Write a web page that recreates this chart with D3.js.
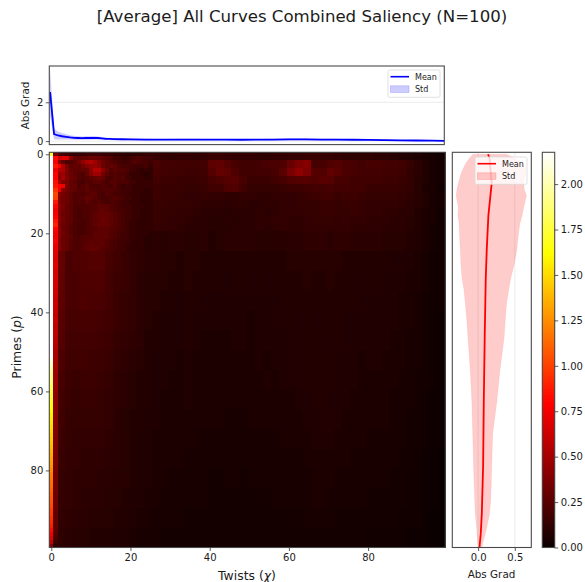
<!DOCTYPE html>
<html><head><meta charset="utf-8">
<script src="https://cdn.jsdelivr.net/npm/d3@7"></script>
<style>html,body{margin:0;padding:0;background:#fff}svg{display:block}text{font-family:"DejaVu Sans",sans-serif;fill:#1c1c1c}</style>
</head><body><svg id="c" width="585" height="582"></svg>
<script>
const titleText = "[Average] All Curves Combined Saliency (N=100)";
const gridSize = 100;
const colorMax = 2.175;
const axisTicks = [0, 20, 40, 60, 80];
const colorbarTicks = [0, 0.25, 0.5, 0.75, 1, 1.25, 1.5, 1.75, 2];

// column 0 and column 1 of the heat map, one value per row
const columnZero = [1.75,2.3,2.3,2.3,2.3,2.3,2.3,2.3,2.3,2.3,2.3,2.3,2.3,2.3,2.3,2.3,2.3,2.3,2.3,2.3,2.3,2.3,2.3,2.3,2.3,2.3,2.3,2.3,2.3,2.3,2.3,2.3,2.3,2.3,2.3,2.3,2.3,2.3,2.3,2.3,2.3,2.3,2.3,2.3,2.3,2.3,2.3,2.3,2.3,2.3,2.3,2.2,2.12,2.06,2.0,1.96,1.93,1.9,1.87,1.84,1.8,1.76,1.72,1.68,1.64,1.61,1.58,1.56,1.54,1.52,1.5,1.47,1.45,1.42,1.4,1.37,1.35,1.32,1.3,1.27,1.24,1.2,1.18,1.16,1.14,1.12,1.09,1.07,1.05,1.03,1.0,.98,.95,.92,.88,.82,.76,.7,.6,.42];
const columnOne = [.34,.82,.78,.86,.74,.8,.8,.84,.86,.95,1.02,1.0,.86,.8,.75,.78,.8,.86,.9,.8,.76,.74,.78,.74,.72,.7,.7,.68,.7,.68,.66,.68,.66,.66,.64,.66,.64,.62,.64,.62,.62,.6,.62,.6,.58,.6,.58,.56,.56,.54,.52,.52,.5,.5,.48,.48,.46,.47,.45,.44,.44,.43,.42,.42,.41,.41,.4,.4,.39,.39,.38,.38,.37,.37,.36,.36,.35,.35,.35,.34,.34,.33,.33,.33,.32,.32,.31,.31,.3,.3,.29,.28,.28,.27,.26,.25,.23,.2,.15,.1];

// rows 0-24, columns 2-25, one character per cell
const fineRows = [
"887666677776665554455566",
"qttgcbccddcba97766789877",
"hc9abeilnkgdba98778a9887",
"vmfbcbegijhdbcb988877786",
"nmgcbbcchnnhd9baa9776565",
"ikfdba9cgkkeb9a998666545",
"hlgdca9abcdc98a9a7766655",
"lgfcb98a9bba8aa999776666",
"wvfcc9ab999a98a867766666",
"vhecbaabaa99aa9877766655",
"hfdb9a9abb98a98877666555",
"gedb9aacba9889a987766555",
"gedb9a9ba9a9899877666555",
"hfcb9999aabbba9877766655",
"gecb9899aabcba9887766555",
"gdcb9899abcccba987766555",
"hecb9899abcccba987766555",
"hecb9989abcdcba987665555",
"gdca9889abcccba987665555",
"hdba9889aabbbaa987665555",
"heca9889abbbba9877665554",
"hdcb99aaabbbba9877665544",
"gdca99aabbbba98777655544",
"gdca99abbbbba98776655544",
"gdca99abccba998776555544"];

// blocks two columns wide starting at column 2; blockRowStarts gives each block's first row
const blockRowStarts = [0,2,4,6,8,10,12,14,16,18,20,25,30,35,40,45,50,55,60,65,70,75,80,85,90,95,100];
const blockRows = [
"aaaaaaaaaaaa"+"cbabbab"+"ddcbbbaabb"+"ccddccbaaa"+"a998765432",
"aaaaaaaaaaaa"+"iggfffg"+"nolhffgiij"+"qwzhhklihg"+"hhggfc9643",
"aaaaaaaaaaaa"+"hgffeef"+"lpnjffgghm"+"vBxlkomihg"+"ggffeb9643",
"aaaaaaaaaaaa"+"geeddde"+"hjlmhdddfh"+"kllkmlhhff"+"ffeedb8643",
"aaaaaaaaaaaa"+"edddccd"+"ffjkfccccd"+"eefgghggff"+"ddddcb8542",
"aaaaaaaaaaaa"+"eddcbbc"+"bbaabbaabb"+"bcdeffdeed"+"ccccba8643",
"aaaaaaaaaaaa"+"ddcccba"+"aa9aa99aab"+"bcccddcddc"+"bbbba98643",
"aaaaaaaaaaaa"+"dccbba9"+"998999a9ab"+"bbccddccdc"+"bbaa997542",
"aaaaaaaaaaaa"+"dcbba99"+"889899aabb"+"aabcccbcbb"+"aaa9987542",
"aaaaaaaaaaaa"+"cbba999"+"888999a9ab"+"aabbbbbbaa"+"aa99987532",
"pkjjkkhecba9"+"9899889"+"7899998888"+"99aaa9aa99"+"9988876532",
"pijkllhfdba9"+"9887887"+"7777777777"+"8888888777"+"7776665422",
"oiijjjgedb98"+"8877877"+"7767767677"+"7787787776"+"7766655422",
"niijiigdcb98"+"8776776"+"6666666667"+"7777777776"+"6666554322",
"mhhhhgfdcb98"+"7666766"+"6666656666"+"7676777666"+"6666554321",
"lggggfecba97"+"7666765"+"5556656666"+"6677767666"+"6665544321",
"jfffeedba987"+"6665655"+"5555556566"+"6677776665"+"6655544321",
"hedeedca9877"+"6655655"+"5555555656"+"6677776665"+"5555443321",
"gdcddcba9877"+"6555655"+"5555555555"+"5667766655"+"5554443211",
"fcccccb98776"+"6555555"+"5544455555"+"5566676555"+"5554433211",
"ecbbbba98766"+"5555554"+"4444444445"+"5556665555"+"4444433211",
"dbbaaa998766"+"5555444"+"4444444444"+"4455555544"+"4444332110",
"cbaaa9988766"+"5544444"+"3344344444"+"4445554444"+"4443322110",
"cba999887665"+"5444444"+"3333333344"+"4445544444"+"3333322110",
"ba9988877655"+"4444333"+"3333333333"+"3344443333"+"3333222100",
"a98877766544"+"4333333"+"3333333333"+"3333333333"+"2222211100"];

const topChi  = [0,1,2,3,4,5,6,7,8,9,10,11,12,13,14,15,16,18,20,24,28,32,36,40,44,48,52,56,60,64,68,72,76,80,84,88,92,96,99];
const topMean = [2.52,.36,.29,.25,.22,.19,.17,.16,.15,.16,.16,.17,.16,.14,.12,.11,.1,.095,.09,.08,.075,.08,.08,.075,.075,.07,.075,.08,.085,.09,.08,.08,.07,.065,.05,.04,.03,.02,.01];
const topUpper= [3.75,.62,.5,.42,.36,.3,.27,.25,.24,.25,.25,.26,.24,.21,.18,.16,.15,.14,.13,.12,.11,.12,.12,.11,.11,.1,.11,.12,.13,.135,.12,.12,.1,.095,.08,.06,.05,.03,.015];
const topLower= [1.3,.1,.08,.08,.08,.08,.07,.07,.06,.07,.07,.08,.08,.07,.06,.06,.05,.05,.05,.04,.04,.04,.04,.04,.04,.04,.04,.04,.04,.045,.04,.04,.04,.035,.02,.02,.01,.01,.005];

const sideRows  = [0,1,2,3.5,5,7,9,10.4,12,13.5,15.5,17.5,19.5,22,24,28,31.4,34,37.7,42,46.3,50,54.7,59,63,67,70.6,75,79,83,87.6,91,94.5,98,99.5];
const sideLeft  = [-.07,-.12,-.16,-.2,-.235,-.265,-.29,-.3,-.285,-.27,-.275,-.26,-.257,-.25,-.243,-.235,-.22,-.195,-.175,-.155,-.139,-.125,-.108,-.095,-.085,-.08,-.074,-.068,-.063,-.055,-.047,-.04,-.02,-.01,.007];
const sideRight = [.39,.5,.58,.66,.65,.62,.63,.66,.64,.62,.6,.57,.555,.54,.53,.49,.445,.42,.388,.37,.355,.33,.297,.275,.253,.225,.2,.192,.185,.18,.172,.155,.117,.07,.05];
const meanRows  = [0,1,7.3,15.5,24,31.4,46,63,79,91,96,99.5];
const meanValues= [.135,.155,.185,.14,.118,.104,.09,.077,.068,.05,.036,.018];

const fineStep = 0.024, blockStep = 0.0115;
const alphabet = "0123456789abcdefghijklmnopqrstuvwxyzABCDEFGHIJKLMNOPQRSTUVWXYZ";
const heat = [];
blockRows.forEach((s, b) => {
  for (let r = blockRowStarts[b]; r < blockRowStarts[b + 1]; r++)
    for (let i = 0; i < s.length; i++)
      for (const c of [2 + 2 * i, 3 + 2 * i])
        if (c < gridSize) heat.push({ r, c, v: alphabet.indexOf(s[i]) * blockStep });
});
fineRows.forEach((s, r) => { [...s].forEach((ch, i) => heat.push({ r, c: 2 + i, v: alphabet.indexOf(ch) * fineStep })); });
columnZero.forEach((v, r) => heat.push({ r, c: 0, v }));
columnOne.forEach((v, r) => heat.push({ r, c: 1, v }));

// matplotlib "hot"
const hot = t => {
  t = Math.max(0, Math.min(1, t));
  const R = Math.min(1, 0.0416 + t / 0.365 * 0.9584);
  const G = t < 0.365 ? 0 : Math.min(1, (t - 0.365) / 0.381);
  const B = t < 0.746 ? 0 : Math.min(1, (t - 0.746) / 0.254);
  return d3.rgb(R * 255, G * 255, B * 255).formatRgb();
};
const colorScale = d3.scaleSequential(hot).domain([0, colorMax]);

const svg = d3.select("#c");
const spine = "#4a4a4a", gridCol = "#e6e6e6";
const H = { l: 49.3, r: 445.3, t: 152.3, b: 547.5 };
const T = { l: 49.3, r: 444.3, t: 66, b: 144.6 };
const S = { l: 452.3, r: 531.3, t: 152.3, b: 547.5 };
const C = { l: 542.3, r: 554.7, t: 152.3, b: 547.5 };

const x = d3.scaleLinear().domain([-0.5, 99.5]).range([H.l, H.r]);
const y = d3.scaleLinear().domain([-0.5, 99.5]).range([H.t, H.b]);
const xTop = d3.scaleLinear().domain([-0.2, 99]).range([T.l, T.r]);
const yTop = d3.scaleLinear().domain([3.87, -0.18]).range([T.t, T.b]);
const xSide = d3.scaleLinear().domain([-0.352, 0.725]).range([S.l, S.r]);
const yCb = d3.scaleLinear().domain([0, colorMax]).range([C.b, C.t]);

function styleAxis(g) {
  g.select(".domain").remove();
  g.selectAll("line").attr("stroke", "#333").attr("stroke-width", 0.8);
  g.selectAll("text").attr("font-size", 10).style("font-family", '"DejaVu Sans"').attr("fill", "#1c1c1c");
}
function box(b) {
  svg.append("rect").attr("x", b.l).attr("y", b.t).attr("width", b.r - b.l).attr("height", b.b - b.t)
    .attr("fill", "none").attr("stroke", spine).attr("stroke-width", 1.1);
}
function legend(lx, ly, w, h, col, fillCol) {
  const g = svg.append("g");
  g.append("rect").attr("x", lx).attr("y", ly).attr("width", w).attr("height", h).attr("rx", 1.5)
    .attr("fill", "#fff").attr("fill-opacity", 0.8).attr("stroke", "#d9d9d9").attr("stroke-width", 0.8);
  g.append("line").attr("x1", lx + 2.5).attr("x2", lx + 21).attr("y1", ly + 6.7).attr("y2", ly + 6.7).attr("stroke", col).attr("stroke-width", 1.6);
  g.append("rect").attr("x", lx + 2.5).attr("y", ly + 15.8).attr("width", 18.5).attr("height", 6.6).attr("fill", fillCol).attr("stroke", col).attr("stroke-opacity", 0.2).attr("stroke-width",0.8);
  g.append("text").attr("x", lx + 27).attr("y", ly + 9.7).attr("font-size", 8).text("Mean");
  g.append("text").attr("x", lx + 27).attr("y", ly + 22.2).attr("font-size", 8).text("Std");
}

svg.append("text").attr("x", 302).attr("y", 22).attr("text-anchor", "middle").attr("font-size", 16.6).text(titleText);

// top panel
svg.append("g").selectAll("line").data([0, 2]).join("line")
  .attr("x1", T.l).attr("x2", T.r).attr("y1", d => yTop(d)).attr("y2", d => yTop(d)).attr("stroke", gridCol).attr("stroke-width", 0.8);
svg.append("path").datum(topChi.map((c, i) => [c, topLower[i], topUpper[i]]))
  .attr("fill", "#0000ff").attr("fill-opacity", 0.2)
  .attr("d", d3.area().x(d => xTop(d[0])).y0(d => yTop(d[1])).y1(d => yTop(d[2])));
svg.append("path").datum(topChi.map((c, i) => [c, topMean[i]]))
  .attr("fill", "none").attr("stroke", "#0000ff").attr("stroke-width", 1.8)
  .attr("d", d3.line().x(d => xTop(d[0])).y(d => yTop(d[1])));
box(T);
svg.append("g").attr("transform", `translate(${T.l},0)`).call(d3.axisLeft(yTop).tickValues([0, 2]).tickFormat(d3.format("d")).tickSize(3.5).tickPadding(2.5)).call(styleAxis);
svg.append("text").attr("transform", "translate(29,105.5) rotate(-90)").attr("text-anchor", "middle").attr("font-size", 10.4).text("Abs Grad");
legend(388, 70, 52, 27.3, "#0000ff", "rgba(0,0,255,0.2)");

// heat map
svg.append("g").attr("shape-rendering", "crispEdges").selectAll("rect").data(heat).join("rect")
  .attr("x", d => x(d.c - 0.5)).attr("y", d => y(d.r - 0.5))
  .attr("width", x(1) - x(0) + 0.3).attr("height", y(1) - y(0) + 0.3)
  .attr("fill", d => colorScale(d.v));
box(H);
svg.append("g").attr("transform", `translate(0,${H.b})`).call(d3.axisBottom(x).tickValues(axisTicks).tickSize(3.5).tickPadding(2.5)).call(styleAxis);
svg.append("g").attr("transform", `translate(${H.l},0)`).call(d3.axisLeft(y).tickValues(axisTicks).tickSize(3.5).tickPadding(2.5)).call(styleAxis);
const xl = svg.append("text").attr("x", 247).attr("y", 580).attr("text-anchor", "middle").attr("font-size", 12.4);
xl.append("tspan").text("Twists (");
xl.append("tspan").attr("font-style", "italic").text("χ");
xl.append("tspan").text(")");
const yl = svg.append("text").attr("transform", "translate(21,347) rotate(-90)").attr("text-anchor", "middle").attr("font-size", 12.4);
yl.append("tspan").text("Primes (");
yl.append("tspan").attr("font-style", "italic").text("p");
yl.append("tspan").text(")");

// side panel
svg.append("g").selectAll("line").data([0, 0.5]).join("line")
  .attr("x1", d => xSide(d)).attr("x2", d => xSide(d)).attr("y1", S.t).attr("y2", S.b).attr("stroke", gridCol).attr("stroke-width", 0.8);
svg.append("path").datum(sideRows.map((r, i) => [r, sideLeft[i], sideRight[i]]))
  .attr("fill", "#ff0000").attr("fill-opacity", 0.2).attr("stroke", "#ff0000").attr("stroke-opacity", 0.06)
  .attr("d", d3.area().y(d => y(d[0])).x0(d => xSide(d[1])).x1(d => xSide(d[2])));
svg.append("path").datum(meanRows.map((r, i) => [r, meanValues[i]]))
  .attr("fill", "none").attr("stroke", "#ff0000").attr("stroke-width", 1.8)
  .attr("d", d3.line().y(d => y(d[0])).x(d => xSide(d[1])));
box(S);
svg.append("g").attr("transform", `translate(0,${S.b})`).call(d3.axisBottom(xSide).tickValues([0, 0.5]).tickFormat(d3.format(".1f")).tickSize(3.5).tickPadding(2.5)).call(styleAxis);
svg.append("text").attr("x", 491.5).attr("y", 578).attr("text-anchor", "middle").attr("font-size", 10.4).text("Abs Grad");
legend(475, 157, 52, 27.3, "#ff0000", "rgba(255,0,0,0.2)");

// colour bar
const cbSteps = d3.range(0, 396);
svg.append("g").attr("shape-rendering", "crispEdges").selectAll("rect").data(cbSteps).join("rect")
  .attr("x", C.l).attr("width", C.r - C.l).attr("y", d => C.b - d - 1).attr("height", 1.2)
  .attr("fill", d => colorScale(yCb.invert(C.b - d - 0.5)));
box(C);
svg.append("g").attr("transform", `translate(${C.r},0)`).call(d3.axisRight(yCb).tickValues(colorbarTicks).tickFormat(d3.format(".2f")).tickSize(3.5).tickPadding(2.5)).call(styleAxis);
</script></body></html>
